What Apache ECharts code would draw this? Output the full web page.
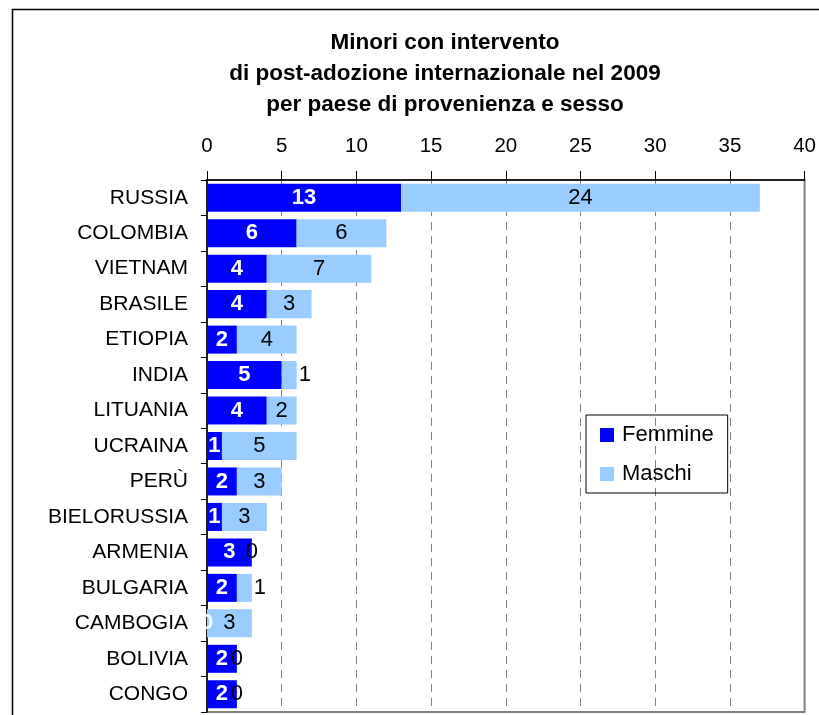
<!DOCTYPE html>
<html>
<head>
<meta charset="utf-8">
<script src="https://cdn.jsdelivr.net/npm/echarts@6/dist/echarts.min.js"></script>
<style>
  html, body { margin: 0; padding: 0; background: #fff; }
  #chart { width: 819px; height: 715px; }
</style>
</head>
<body>
<div id="chart"></div>
<script>
const countries = ['RUSSIA', 'COLOMBIA', 'VIETNAM', 'BRASILE', 'ETIOPIA', 'INDIA', 'LITUANIA',
  'UCRAINA', 'PERÙ', 'BIELORUSSIA', 'ARMENIA', 'BULGARIA', 'CAMBOGIA', 'BOLIVIA', 'CONGO']
const femmine = [13, 6, 4, 4, 2, 5, 4, 1, 2, 1, 3, 2, 0, 2, 2]
const maschi = [24, 6, 7, 3, 4, 1, 2, 5, 3, 3, 0, 1, 3, 0, 0]
const xTicks = { min: 0, max: 40, step: 5 }

const FONT = 'Liberation Sans, Arial, sans-serif'

// le etichette da 1 stanno fuori dalla barra, come in Excel
const maschiData = maschi.map(v => {
  if (v === 1) {
    return { value: v, label: { position: 'right', distance: 2 } }
  }
  return v
})

const chart = echarts.init(document.getElementById('chart'))

chart.setOption({
  animation: false,
  textStyle: { fontFamily: FONT },
  graphic: [{
    type: 'rect',
    left: 10, top: 7,
    shape: { width: 900, height: 900 },
    style: { fill: 'none', stroke: '#000', lineWidth: 1.5 },
    silent: true,
    z: -1
  }],
  title: {
    text: 'Minori con intervento\ndi post-adozione internazionale nel 2009\nper paese di provenienza e sesso',
    left: 440,
    top: 22,
    textAlign: 'center',
    textStyle: {
      fontFamily: FONT,
      fontSize: 22.5,
      fontWeight: 'bold',
      color: '#000',
      lineHeight: 31
    }
  },
  legend: {
    orient: 'vertical',
    left: 586,
    top: 415,
    padding: [9, 14, 8, 14],
    itemGap: 17,
    itemWidth: 14,
    itemHeight: 14,
    borderColor: '#000',
    borderWidth: 1,
    icon: 'rect',
    textStyle: { fontFamily: FONT, fontSize: 22, color: '#000', padding: [0, 0, 0, 3] },
    data: ['Femmine', 'Maschi']
  },
  grid: {
    left: 207,
    right: 14,
    top: 180,
    bottom: 3,
    show: true,
    borderColor: '#808080',
    borderWidth: 2
  },
  xAxis: {
    type: 'value',
    position: 'top',
    min: xTicks.min,
    max: xTicks.max,
    interval: xTicks.step,
    axisLine: { show: true, lineStyle: { color: '#000', width: 1.5 } },
    axisTick: { show: true, length: 9, lineStyle: { color: '#000' } },
    axisLabel: { fontFamily: FONT, fontSize: 20.5, color: '#000', margin: 23 },
    splitLine: { show: true, lineStyle: { color: '#808080', type: [8, 6], width: 1 } }
  },
  yAxis: {
    type: 'category',
    inverse: true,
    data: countries,
    axisLine: { show: true, lineStyle: { color: '#000', width: 1.5 } },
    axisTick: { show: true, length: 6, lineStyle: { color: '#000' } },
    axisLabel: { fontFamily: FONT, fontSize: 21, color: '#000', margin: 19 }
  },
  series: [
    {
      name: 'Femmine',
      type: 'bar',
      stack: 'tot',
      barCategoryGap: '21%',
      itemStyle: { color: '#0000ff' },
      label: {
        show: true,
        position: 'inside',
        color: '#fff',
        fontFamily: FONT,
        fontSize: 22,
        fontWeight: 'bold'
      },
      data: femmine
    },
    {
      name: 'Maschi',
      type: 'bar',
      stack: 'tot',
      itemStyle: { color: '#99ccff' },
      label: {
        show: true,
        position: 'inside',
        color: '#000',
        fontFamily: FONT,
        fontSize: 22
      },
      data: maschiData
    }
  ]
})
</script>
</body>
</html>
